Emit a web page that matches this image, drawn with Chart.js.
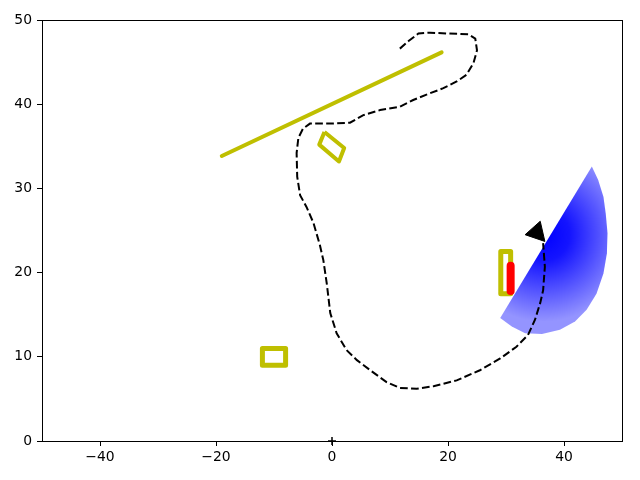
<!DOCTYPE html>
<html>
<head>
<meta charset="utf-8">
<script src="https://cdn.jsdelivr.net/npm/chart.js@4/dist/chart.umd.min.js"></script>
<style>
  html, body { margin: 0; padding: 0; background: #fff; }
  #wrap { width: 640px; height: 480px; }
</style>
</head>
<body>
<div id="wrap"><canvas id="grafico" width="640" height="480"></canvas></div>
<script>
// eixos
const xTicks = [-40, -20, 0, 20, 40];
const yTicks = [0, 10, 20, 30, 40, 50];

// trajetoria tracejada
const pathX = [11.7, 13.2, 14.9, 16.9, 19.8, 23.5, 24.7, 25.0, 24.4, 23.2, 21.5, 19.2, 16.9, 14.0, 11.7, 8.3, 5.4, 3.1, -0.3, -3.8, -5.0, -5.8, -6.1, -6.0, -5.5, -4.4, -3.2, -2.1, -1.5, -0.9, -0.3, 0.8, 2.5, 4.3, 6.6, 9.4, 11.7, 14.6, 17.5, 21.5, 25.5, 29.0, 31.8, 33.8, 35.0, 35.9, 36.4, 36.7, 36.4];
const pathY = [46.6, 47.5, 48.4, 48.5, 48.4, 48.3, 47.8, 46.4, 44.9, 43.5, 42.7, 41.9, 41.3, 40.5, 39.7, 39.3, 38.7, 37.8, 37.7, 37.7, 37.1, 36.0, 34.2, 31.4, 29.2, 27.8, 25.9, 23.3, 21.5, 18.7, 15.2, 12.8, 10.8, 9.6, 8.4, 7.0, 6.3, 6.2, 6.5, 7.2, 8.4, 9.8, 11.2, 12.6, 14.4, 16.4, 17.9, 20.7, 23.5];

// setor azul (campo de visao)
const wedgeX = [29.0, 44.8, 45.9, 46.8, 47.2, 47.5, 47.4, 46.8, 45.6, 43.9, 41.9, 39.3, 36.2, 33.3, 31.0, 29.0];
const wedgeY = [14.6, 32.6, 31.0, 29.0, 27.0, 24.7, 22.3, 19.9, 17.5, 15.6, 14.2, 13.2, 12.7, 12.8, 13.6, 14.6];
const wedgeCenter = [36.5, 24.5];
const wedgeRadius = 15;

// seta do robo
const arrowX = [33.3, 35.9, 36.7, 33.3];
const arrowY = [24.5, 26.1, 23.7, 24.5];

// obstaculos amarelos
const lineX = [-19.0, 18.9];
const lineY = [33.85, 46.15];
const diamondX = [-1.3, 2.1, 1.2, -2.2, -1.3];
const diamondY = [36.7, 34.8, 33.2, 35.2, 36.7];
const rectAX = [-12, -8, -8, -12, -12];
const rectAY = [9, 9, 11, 11, 9];
const rectBX = [29.1, 30.8, 30.8, 29.1, 29.1];
const rectBY = [17.5, 17.5, 22.5, 22.5, 17.5];

// segmento vermelho
const redX = [30.8, 30.8];
const redY = [17.8, 20.8];

// origem
const originX = [0];
const originY = [0];

const pts = (xs, ys) => xs.map((x, i) => ({ x: x, y: ys[i] }));
const amarelo = '#bfbf00';

function gradienteSetor(context) {
    const chart = context.chart;
    if (!chart.chartArea || !chart.scales.x) return 'rgba(0,0,255,0.6)';
    const sx = chart.scales.x, sy = chart.scales.y;
    const cx = sx.getPixelForValue(wedgeCenter[0]);
    const cy = sy.getPixelForValue(wedgeCenter[1]);
    const r = Math.abs(sx.getPixelForValue(wedgeCenter[0] + wedgeRadius) - cx);
    const g = chart.ctx.createRadialGradient(cx, cy, 0, cx, cy, r);
    g.addColorStop(0, 'rgba(0,0,255,1)');
    g.addColorStop(0.3, 'rgba(0,0,255,0.92)');
    g.addColorStop(1, 'rgba(0,0,255,0.42)');
    return g;
}

const molduraPlugin = {
    id: 'moldura',
    afterDraw(chart) {
        const { ctx, chartArea: a } = chart;
        ctx.save();
        ctx.strokeStyle = '#000';
        ctx.lineWidth = 1;
        ctx.strokeRect(a.left + 0.5, a.top + 0.5, a.right - a.left, a.bottom - a.top);
        ctx.restore();
    }
};

const fonte = { family: 'DejaVu Sans', size: 13.9 };
const fmt = v => String(v).replace('-', '\u2212');

new Chart(document.getElementById('grafico').getContext('2d'), {
    type: 'scatter',
    data: {
        datasets: [
            { data: pts(originX, originY), showLine: false, pointStyle: 'cross', pointRadius: 4, borderColor: '#000', borderWidth: 1.5, clip: false },
            { data: pts(arrowX, arrowY), showLine: true, fill: 'shape', backgroundColor: '#000', borderColor: '#000', borderWidth: 1, pointRadius: 0 },
            { data: pts(pathX, pathY), showLine: true, borderColor: '#000', borderWidth: 2, borderDash: [7.7, 3.3], pointRadius: 0, tension: 0 },
            { data: pts(redX, redY), showLine: true, borderColor: '#ff0000', borderWidth: 8, borderCapStyle: 'round', pointRadius: 0 },
            { data: pts(rectBX, rectBY), showLine: true, borderColor: amarelo, borderWidth: 5, borderJoinStyle: 'round', pointRadius: 0 },
            { data: pts(rectAX, rectAY), showLine: true, borderColor: amarelo, borderWidth: 5, borderJoinStyle: 'round', pointRadius: 0 },
            { data: pts(diamondX, diamondY), showLine: true, borderColor: amarelo, borderWidth: 4, borderJoinStyle: 'round', pointRadius: 0 },
            { data: pts(lineX, lineY), showLine: true, borderColor: amarelo, borderWidth: 4, borderCapStyle: 'round', pointRadius: 0 },
            { data: pts(wedgeX, wedgeY), showLine: true, fill: 'shape', backgroundColor: gradienteSetor, borderWidth: 0, pointRadius: 0 }
        ]
    },
    options: {
        responsive: false,
        animation: false,
        devicePixelRatio: 1,
        layout: { padding: { top: 20, right: 18, left: 0, bottom: 0 } },
        plugins: { legend: { display: false }, tooltip: { enabled: false } },
        scales: {
            x: {
                type: 'linear', min: -50, max: 50,
                afterBuildTicks: axis => { axis.ticks = xTicks.map(v => ({ value: v })); },
                afterFit: s => { s.height = 39; },
                ticks: { color: '#000', font: fonte, padding: 3, maxRotation: 0, callback: fmt },
                grid: { drawOnChartArea: false, drawTicks: true, tickLength: 5, color: '#000' },
                border: { display: true, color: '#000', width: 1 }
            },
            y: {
                type: 'linear', min: 0, max: 50,
                afterBuildTicks: axis => { axis.ticks = yTicks.map(v => ({ value: v })); },
                afterFit: s => { s.width = 42; },
                ticks: { color: '#000', font: fonte, padding: 5, callback: fmt },
                grid: { drawOnChartArea: false, drawTicks: true, tickLength: 5, color: '#000' },
                border: { display: true, color: '#000', width: 1 }
            }
        }
    },
    plugins: [molduraPlugin]
});
</script>
</body>
</html>
